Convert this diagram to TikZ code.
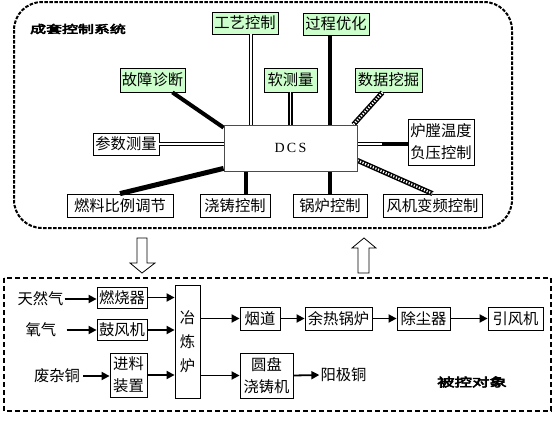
\documentclass[tikz,border=0pt]{standalone}
\usepackage{fontspec}
\setmainfont{Liberation Serif}
\newfontfamily\cjk{Noto Sans CJK SC}
\newfontfamily\cjkb[FakeBold=4]{Noto Sans CJK SC}
\usetikzlibrary{arrows.meta,calc}
\definecolor{lgreen}{RGB}{204,255,204}
\begin{document}
\begin{tikzpicture}[x=1pt,y=-1pt,
  box/.style={draw=black,line width=0.8pt,fill=white,inner sep=0pt,font=\cjk\fontsize{15.3}{17}\selectfont,align=center},
  gbox/.style={box,fill=lgreen},
  txt/.style={inner sep=1pt,font=\cjk\fontsize{15.3}{17}\selectfont},
  dbl/.style={draw=black,line width=1.6pt,double=white,double distance=1.5pt},
  thk/.style={draw=black,line width=4pt},
  arr/.style={draw=black,line width=1.8pt,-{Triangle[length=8pt,width=8pt]}},
  hatchA/.style={draw=black,line width=5pt},
  hatchB/.style={draw=white,line width=2.2pt,dash pattern=on 1.2pt off 1.6pt}]
\useasboundingbox (0,0) rectangle (558,421);

% upper frame
\draw[line width=2pt,dash pattern=on 3.5pt off 1.5pt,rounded corners=28pt] (14,2) rectangle (512,228);
\node[font=\cjkb\fontsize{11}{12}\selectfont,xscale=1.45,inner sep=0pt] (title) at (78,29) {成套控制系统};

% upper nodes
\node[gbox,minimum width=66,minimum height=22] (gy) at (245,23) {工艺控制};
\node[gbox,minimum width=66,minimum height=22] (gc) at (336,24) {过程优化};
\node[gbox,minimum width=65,minimum height=24] (gz) at (152.5,80) {故障诊断};
\node[gbox,minimum width=53,minimum height=24] (rc) at (290.5,80) {软测量};
\node[gbox,minimum width=67,minimum height=24] (sj) at (388.5,80) {数据挖掘};
\node[box,minimum width=66,minimum height=22] (cs) at (126,144) {参数测量};
\node[box,draw=black!70,minimum width=133,minimum height=46,font=\fontsize{14}{16}\selectfont] (dcs) at (290.5,148) {D\,C\,S};
\node[box,minimum width=66,minimum height=46,font=\cjk\fontsize{15.3}{22}\selectfont] (lt) at (441,142) {炉膛温度\\负压控制};
\node[box,minimum width=106,minimum height=23] (rl) at (120,205.5) {燃料比例调节};
\node[box,minimum width=70,minimum height=23] (jz) at (235,205.5) {浇铸控制};
\node[box,minimum width=74,minimum height=23] (gl) at (330,205.5) {锅炉控制};
\node[box,minimum width=99,minimum height=23] (fj) at (432.5,205.5) {风机变频控制};

% upper connectors
\draw[dbl] ([xshift=6pt]gy.south) -- ([xshift=6pt]gy.south |- dcs.north);
\draw[thk] ([xshift=-6pt]gc.south) -- ([xshift=-6pt]gc.south |- dcs.north);
\draw[thk] ([xshift=-13pt]gz.south east) -- ([yshift=-3pt]dcs.north west);
\draw[dbl] (rc.south) -- (rc.south |- dcs.north);
\draw[hatchA] ([xshift=-6pt]sj.south) -- ([xshift=-4pt]dcs.north east);
\draw[hatchB] ([xshift=-6pt]sj.south) -- ([xshift=-4pt]dcs.north east);
\draw[dbl] (cs.east) -- (cs.east -| dcs.west);
\coordinate (ltm) at ($(dcs.east |- 0,144)+(25,0)$);
\draw[dbl] (dcs.east |- 0,144) -- (ltm);
\draw[thk] (ltm) -- (lt.west |- 0,144);
\draw[line width=5pt] (rl.north) -- ([yshift=3pt]dcs.south west);
\draw[thk] ([xshift=22pt]dcs.south west) -- ([xshift=22pt]dcs.south west |- jz.north);
\draw[thk] (gl.north) -- (gl.north |- dcs.south);
\draw[hatchA] ([yshift=11pt]dcs.south east) -- (fj.north);
\draw[hatchB] ([yshift=11pt]dcs.south east) -- (fj.north);
% redraw DCS box on top of connector ends
\node[box,draw=black!70,minimum width=133,minimum height=46,font=\fontsize{14}{16}\selectfont] at (dcs.center) {D\,C\,S};

% block arrows
\draw[line width=0.8pt,fill=white] (137,238) -- (147,238) -- (147,263) -- (155,263) -- (142,273) -- (130,263) -- (137,263) -- cycle;
\draw[line width=0.8pt,fill=white] (358,273) -- (369,273) -- (369,248) -- (376,248) -- (364,238) -- (352,248) -- (358,248) -- cycle;

% lower frame
\draw[line width=1.6pt,dash pattern=on 5pt off 3pt] (4,278) rectangle (551,411);
\node[font=\cjkb\fontsize{12}{13}\selectfont,xscale=1.45,inner sep=0pt] (bk) at (472,382) {被控对象};

% lower nodes
\node[txt] (trq) at (40.5,299) {天然气};
\node[box,minimum width=50,minimum height=21] (rsq) at (122,297.5) {燃烧器};
\node[txt] (yq) at (41,330) {氧气};
\node[box,minimum width=50,minimum height=21] (gf) at (122,330) {鼓风机};
\node[txt] (fzt) at (57,376) {废杂铜};
\node[box,minimum width=37,minimum height=44,font=\cjk\fontsize{15.3}{22}\selectfont] (jl) at (128.5,375) {进料\\装置};
\node[box,minimum width=25,minimum height=113,font=\cjk\fontsize{15.3}{24}\selectfont] (yl) at (187.5,341.5) {冶\\炼\\炉};
\node[box,minimum width=40,minimum height=23] (yd) at (260,318.5) {烟道};
\node[box,minimum width=67,minimum height=23] (yr) at (338.5,318.5) {余热锅炉};
\node[box,minimum width=53,minimum height=23] (cc) at (423.5,318.5) {除尘器};
\node[box,minimum width=55,minimum height=23] (yf) at (515.5,318.5) {引风机};
\node[box,minimum width=53,minimum height=45,font=\cjk\fontsize{15.3}{22}\selectfont] (yp) at (266.5,375.5) {圆盘\\浇铸机};
\node[txt] (yjt) at (343.5,375) {阳极铜};

% lower arrows
\draw[arr] (trq.east) -- (rsq.west |- trq.east);
\draw[arr] (rsq.east) -- (rsq.east -| yl.west);
\draw[arr] ([xshift=9pt]yq.east) -- (gf.west |- yq.east);
\draw[arr] (gf.east) -- (gf.east -| yl.west);
\draw[arr] ([xshift=2pt]fzt.east) -- (jl.west |- fzt.east);
\draw[arr] (jl.east) -- (jl.east -| yl.west);
\draw[arr] (yd.west -| yl.east) -- (yd.west);
\draw[arr] (yp.west -| yl.east) -- (yp.west);
\draw[arr] (yd.east) -- (yr.west);
\draw[arr] (yr.east) -- (cc.west);
\draw[arr] (cc.east) -- (yf.west);
\draw[arr] (yp.east) -- (yjt.west);
\end{tikzpicture}
\end{document}
